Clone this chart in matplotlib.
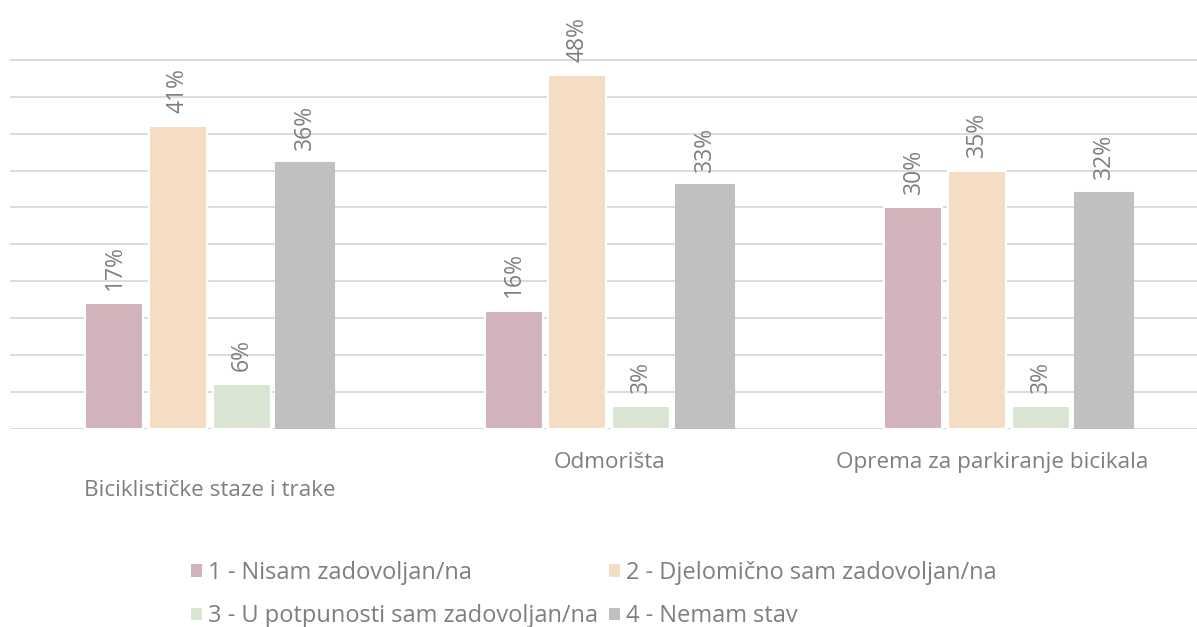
import matplotlib
matplotlib.use("Agg")
import matplotlib.pyplot as plt
import numpy as np
from matplotlib.patches import Patch
from matplotlib.transforms import ScaledTranslation

categories = ["Biciklističke staze i trake", "Odmorišta", "Oprema za parkiranje bicikala"]
series_names = ["1 - Nisam zadovoljan/na", "2 - Djelomično sam zadovoljan/na",
                "3 - U potpunosti sam zadovoljan/na", "4 - Nemam stav"]
s1 = [17, 16, 30]
s2 = [41, 48, 35]
s3 = [6, 3, 3]
s4 = [36, 33, 32]
series = [s1, s2, s3, s4]
colors = ["#D3B3BB", "#F4DDC3", "#D9E4D2", "#C1C0BE"]
text_color = "#7F7F7F"
grid_color = "#D9D9D9"

plt.rcParams['font.family'] = ['Open Sans', 'DejaVu Sans']

W, H = 1197, 627
fig = plt.figure(figsize=(W / 100, H / 100), dpi=100)
ax = fig.add_axes([10 / W, (H - 428.5) / H, (W - 10) / W, (428.5 - 23.2) / H])

x = np.arange(len(categories))
step = 0.159
bw = 0.1452
for i, (vals, c) in enumerate(zip(series, colors)):
    ec = c if i == 3 else "white"
    bars = ax.bar(x + (i - 1.5) * step, vals, width=bw, color=c, edgecolor=ec,
                  linewidth=1.5, zorder=3, label=series_names[i])
    for b, v in zip(bars, vals):
        ax.annotate(f"{v}%", (b.get_x() + b.get_width() / 2, b.get_height()),
                    xytext=(0, 9.5), textcoords="offset points", rotation=90,
                    ha="center", va="bottom", fontsize=16.5, color=text_color,
                    annotation_clip=False)

ax.set_xlim(-0.5, -0.5 + (W - 10) / 399.5)
ax.set_ylim(0, 55)
ax.set_yticks(np.arange(0, 51, 5))
ax.yaxis.grid(True, color=grid_color, linewidth=1.3, zorder=0)
ax.set_axisbelow(True)
ax.tick_params(axis='y', left=False, labelleft=False)
ax.tick_params(axis='x', bottom=False, pad=13.5)
for s in ax.spines.values():
    s.set_visible(False)
ax.set_xticks(x)
ax.set_xticklabels(categories, fontsize=16.2, color=text_color)
labels = ax.get_xticklabels()
offsets = [(0, -28), (0, 0), (-17, 0)]
for lab, (dx, dy) in zip(labels, offsets):
    lab.set_transform(lab.get_transform() + ScaledTranslation(dx / 100, dy / 100, fig.dpi_scale_trans))

handles = [Patch(facecolor=c, edgecolor='none') for c in colors]
order = [0, 2, 1, 3]
leg = fig.legend([handles[k] for k in order], [series_names[k] for k in order],
                 loc="upper left",
                 bbox_to_anchor=(191 / W, 1 - 561 / H), ncol=2, frameon=False,
                 fontsize=17, labelcolor=text_color, handlelength=0.45,
                 handleheight=0.45, handletextpad=0.25, columnspacing=0.5,
                 labelspacing=0.82, borderaxespad=0, borderpad=0)

fig.savefig("out.png", dpi=100)
